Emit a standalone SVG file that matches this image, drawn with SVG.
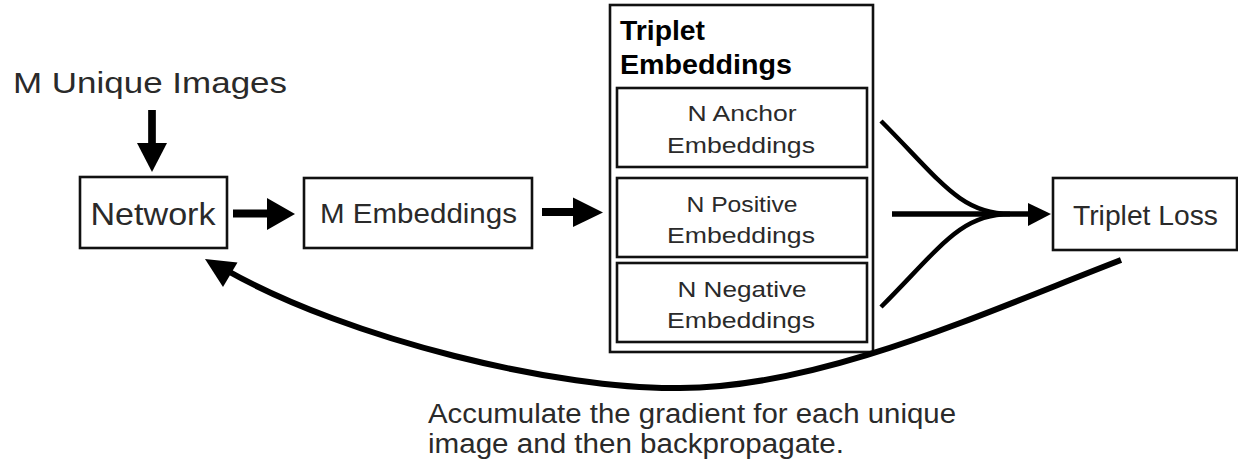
<svg xmlns="http://www.w3.org/2000/svg" width="1238" height="463" viewBox="0 0 1238 463">
<style>
.box{fill:#fff;stroke:#111;stroke-width:2.6}
.t{font-family:"Liberation Sans",Arial,sans-serif;fill:#2a2a2a}
.b{font-family:"Liberation Sans",Arial,sans-serif;font-weight:bold;fill:#000}
.ln{fill:none;stroke:#000}
.hd{fill:#000}
</style>
<rect width="1238" height="463" fill="#fff"/>
<text class="t" x="13" y="93" font-size="30" textLength="274" lengthAdjust="spacingAndGlyphs">M Unique Images</text>
<g id="network">
<rect class="box" x="80" y="177" width="147" height="71"/>
<text class="t" x="153" y="225" font-size="32" text-anchor="middle" textLength="125" lengthAdjust="spacingAndGlyphs">Network</text>
</g>
<g id="m-embeddings">
<rect class="box" x="304" y="178" width="228" height="70"/>
<text class="t" x="418.5" y="223" font-size="28" text-anchor="middle" textLength="197" lengthAdjust="spacingAndGlyphs">M Embeddings</text>
</g>
<g id="triplet-embeddings">
<rect class="box" x="610" y="5" width="263" height="347"/>
<text class="b" x="620" y="40" font-size="27" textLength="85" lengthAdjust="spacingAndGlyphs">Triplet</text>
<text class="b" x="620" y="74" font-size="27" textLength="172" lengthAdjust="spacingAndGlyphs">Embeddings</text>
</g>
<g id="anchor">
<rect class="box" x="617" y="88" width="250" height="79"/>
<text class="t" x="742" y="120.5" font-size="22" text-anchor="middle" textLength="109" lengthAdjust="spacingAndGlyphs">N Anchor</text>
<text class="t" x="741" y="153" font-size="22" text-anchor="middle" textLength="148" lengthAdjust="spacingAndGlyphs">Embeddings</text>
</g>
<g id="positive">
<rect class="box" x="617" y="178" width="250" height="79"/>
<text class="t" x="742" y="211.5" font-size="22" text-anchor="middle" textLength="111" lengthAdjust="spacingAndGlyphs">N Positive</text>
<text class="t" x="741" y="243" font-size="22" text-anchor="middle" textLength="148" lengthAdjust="spacingAndGlyphs">Embeddings</text>
</g>
<g id="negative">
<rect class="box" x="617" y="263" width="250" height="79"/>
<text class="t" x="742" y="296.5" font-size="22" text-anchor="middle" textLength="129" lengthAdjust="spacingAndGlyphs">N Negative</text>
<text class="t" x="741" y="328" font-size="22" text-anchor="middle" textLength="148" lengthAdjust="spacingAndGlyphs">Embeddings</text>
</g>
<g id="triplet-loss">
<rect class="box" x="1053" y="178" width="184" height="72"/>
<text class="t" x="1145.5" y="225" font-size="28" text-anchor="middle" textLength="145" lengthAdjust="spacingAndGlyphs">Triplet Loss</text>
</g>
<g id="connectors">
<line class="ln" x1="152" y1="110" x2="152" y2="145" stroke-width="7.7"/>
<polygon class="hd" points="137,143 167,143 152,172"/>
<line class="ln" x1="233" y1="213.5" x2="269" y2="213.5" stroke-width="8"/>
<polygon class="hd" points="267,198 267,230 295,214"/>
<line class="ln" x1="542" y1="212" x2="575" y2="212" stroke-width="8"/>
<polygon class="hd" points="573,197.5 573,227 603,212.5"/>
<path class="ln" d="M881,121 C940,180 960,214 1010,214" stroke-width="4.5"/>
<path class="ln" d="M881,307 C940,248 960,214 1010,214" stroke-width="4.5"/>
<line class="ln" x1="892" y1="214" x2="1030" y2="214" stroke-width="5.5"/>
<polygon class="hd" points="1028,203 1028,226 1051,214"/>
<path class="ln" d="M1121,260 C981,314 820,388 680,388 C560,390 350,340 226,270" stroke-width="6"/>
<polygon class="hd" points="205,259 237.5,262.5 223,287"/>
</g>
<text class="t" x="428" y="423" font-size="27" textLength="528" lengthAdjust="spacingAndGlyphs">Accumulate the gradient for each unique</text>
<text class="t" x="428" y="453" font-size="27" textLength="416" lengthAdjust="spacingAndGlyphs">image and then backpropagate.</text>
</svg>
